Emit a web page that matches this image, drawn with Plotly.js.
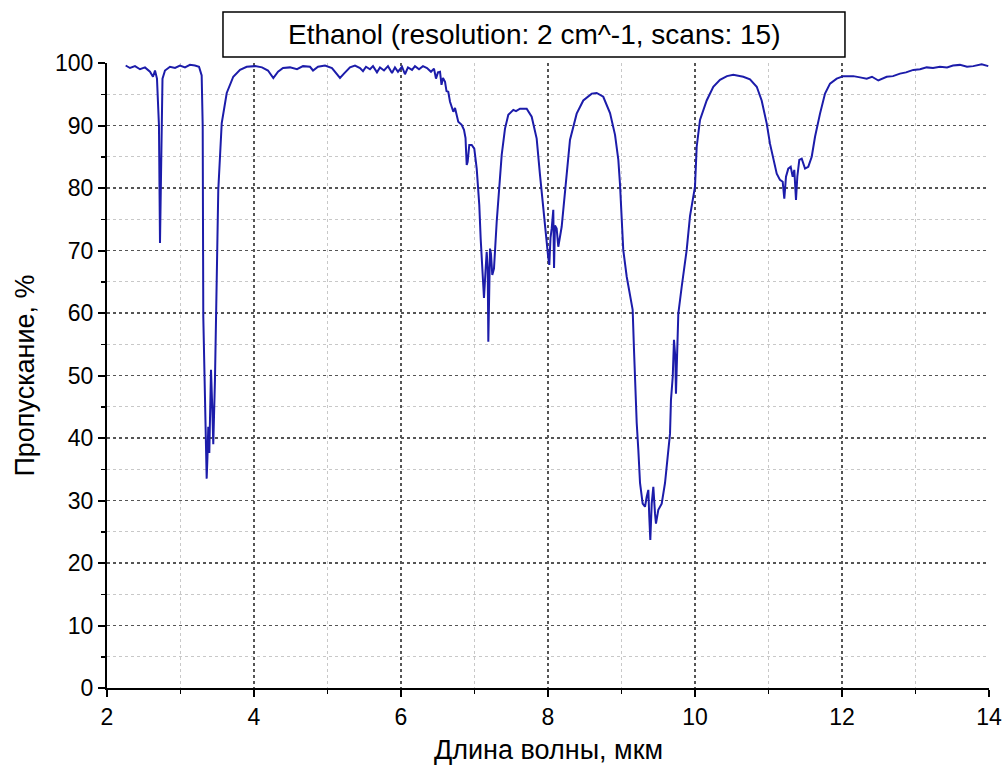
<!DOCTYPE html>
<html>
<head>
<meta charset="utf-8">
<script src="https://cdn.plot.ly/plotly-3.0.1.min.js"></script>
<style>
  html, body { margin: 0; padding: 0; background: #ffffff; }
  #chart { width: 1006px; height: 769px; }
</style>
</head>
<body>
<div id="chart"></div>
<script>
// IR transmission spectrum of ethanol: wavelength (µm) vs transmittance (%)
const wavelength = [
  2.254, 2.313, 2.381, 2.449, 2.517, 2.585, 2.626, 2.653, 2.680, 2.707,
  2.721, 2.735, 2.755, 2.789, 2.857, 2.925, 2.993, 3.061, 3.129, 3.197,
  3.252, 3.288, 3.302, 3.310, 3.333, 3.350, 3.356, 3.367, 3.378, 3.392,
  3.415, 3.433, 3.446, 3.469, 3.493, 3.514, 3.561, 3.629, 3.718, 3.810,
  3.901, 4.014, 4.109, 4.190, 4.263, 4.327, 4.395, 4.490, 4.585, 4.667,
  4.762, 4.803, 4.871, 4.966, 5.061, 5.129, 5.170, 5.224, 5.306, 5.374,
  5.442, 5.483, 5.524, 5.578, 5.619, 5.673, 5.714, 5.769, 5.823, 5.878,
  5.918, 5.959, 6.014, 6.054, 6.095, 6.150, 6.190, 6.245, 6.299, 6.354,
  6.408, 6.449, 6.476, 6.503, 6.531, 6.551, 6.571, 6.599, 6.619, 6.643,
  6.667, 6.712, 6.735, 6.779, 6.825, 6.857, 6.878, 6.884, 6.894, 6.907,
  6.929, 6.962, 6.997, 7.030, 7.065, 7.084, 7.098, 7.112, 7.129, 7.152,
  7.166, 7.180, 7.188, 7.211, 7.224, 7.242, 7.265, 7.302, 7.337, 7.370,
  7.415, 7.460, 7.528, 7.565, 7.619, 7.710, 7.778, 7.846, 7.891, 7.927,
  7.973, 8.004, 8.018, 8.034, 8.050, 8.072, 8.082, 8.095, 8.118, 8.140,
  8.186, 8.231, 8.299, 8.390, 8.480, 8.595, 8.662, 8.752, 8.844, 8.912,
  8.957, 8.980, 9.003, 9.024, 9.071, 9.116, 9.152, 9.170, 9.184, 9.207,
  9.229, 9.252, 9.288, 9.320, 9.343, 9.365, 9.378, 9.392, 9.411, 9.433,
  9.456, 9.469, 9.501, 9.547, 9.592, 9.637, 9.660, 9.673, 9.697, 9.714,
  9.732, 9.741, 9.759, 9.773, 9.819, 9.864, 9.887, 9.932, 10.000, 10.023,
  10.068, 10.159, 10.249, 10.340, 10.435, 10.521, 10.657, 10.748, 10.840, 10.907,
  10.976, 11.020, 11.065, 11.112, 11.156, 11.193, 11.215, 11.238, 11.269, 11.302,
  11.329, 11.351, 11.374, 11.392, 11.419, 11.452, 11.497, 11.541, 11.588, 11.633,
  11.701, 11.769, 11.837, 11.928, 12.018, 12.154, 12.245, 12.336, 12.408, 12.494,
  12.608, 12.694, 12.789, 12.871, 12.970, 13.061, 13.152, 13.238, 13.333, 13.429,
  13.510, 13.605, 13.701, 13.786, 13.900, 13.990
];

const transmittance = [
  99.6, 99.2, 99.5, 99.0, 99.3, 98.6, 97.8, 98.8, 97.5, 90.0,
  71.2, 85.0, 97.5, 98.8, 99.4, 99.2, 99.6, 99.3, 99.7, 99.6,
  99.4, 98.0, 89.9, 59.4, 47.7, 39.7, 33.5, 37.0, 41.8, 37.6,
  50.9, 44.5, 39.0, 49.3, 64.8, 79.7, 90.4, 95.2, 97.8, 98.9,
  99.4, 99.5, 99.3, 98.8, 97.6, 98.6, 99.2, 99.3, 99.0, 99.5,
  99.4, 98.8, 99.4, 99.6, 99.2, 98.2, 97.6, 98.3, 99.3, 99.6,
  99.2, 98.7, 99.4, 99.0, 99.5, 98.5, 99.3, 98.8, 99.5, 98.4,
  99.3, 98.6, 99.4, 98.2, 99.3, 98.9, 99.5, 99.0, 99.5, 99.2,
  98.6, 99.1, 97.5, 98.5, 98.6, 96.5, 97.6, 97.0, 95.5, 95.4,
  93.8, 92.2, 92.8, 90.6, 90.1, 89.3, 88.0, 86.3, 83.7, 84.2,
  86.9, 86.9, 86.3, 83.1, 77.3, 71.9, 68.2, 64.5, 62.4, 67.1,
  69.8, 67.1, 55.4, 70.3, 69.5, 66.1, 67.1, 74.6, 79.9, 85.3,
  89.5, 91.7, 92.5, 92.3, 92.7, 92.7, 91.4, 87.9, 82.1, 77.8,
  71.4, 68.8, 67.7, 72.0, 73.5, 76.5, 67.2, 74.0, 73.5, 70.6,
  73.8, 79.7, 87.7, 91.9, 94.0, 95.1, 95.2, 94.6, 92.0, 88.5,
  84.5, 80.5, 75.0, 70.1, 65.8, 62.6, 60.5, 54.1, 48.8, 42.4,
  38.1, 32.8, 29.5, 29.0, 30.6, 31.7, 27.4, 23.7, 29.5, 32.2,
  27.9, 26.3, 28.5, 29.5, 32.8, 37.5, 40.7, 46.1, 49.8, 55.7,
  53.0, 47.1, 56.2, 59.9, 64.2, 67.9, 70.1, 75.5, 80.2, 86.6,
  90.9, 94.0, 96.2, 97.3, 97.9, 98.1, 97.8, 97.4, 96.2, 94.0,
  90.3, 87.1, 84.5, 82.3, 81.3, 81.0, 78.3, 81.8, 83.1, 83.4,
  81.8, 82.9, 78.1, 81.8, 84.5, 84.7, 83.1, 83.4, 85.0, 88.2,
  91.9, 95.1, 96.7, 97.5, 97.9, 97.9, 97.7, 97.5, 97.8, 97.2,
  97.8, 97.9, 98.3, 98.5, 98.9, 99.0, 99.3, 99.2, 99.4, 99.3,
  99.6, 99.7, 99.4, 99.5, 99.8, 99.5
];

const chartTitle = 'Ethanol (resolution: 2 cm^-1, scans: 15)';
const xTitle = 'Длина волны, мкм';
const yTitle = 'Пропускание, %';

const FONT = 'Arial, "Liberation Sans", sans-serif';

const trace = {
  x: wavelength,
  y: transmittance,
  type: 'scatter',
  mode: 'lines',
  line: { color: '#1c1caa', width: 2 },
  hoverinfo: 'x+y'
};

const axisCommon = {
  showline: true,
  linecolor: '#000000',
  linewidth: 2,
  mirror: false,
  ticks: 'outside',
  ticklen: 7,
  tickwidth: 2,
  tickcolor: '#000000',
  showgrid: true,
  gridcolor: '#555555',
  gridwidth: 1.5,
  griddash: 'dot',
  zeroline: false,
  tickfont: { family: FONT, size: 23, color: '#000000' }
};

const layout = {
  width: 1006,
  height: 769,
  paper_bgcolor: '#ffffff',
  plot_bgcolor: '#ffffff',
  showlegend: false,
  margin: { l: 107, r: 17, t: 63, b: 81 },
  font: { family: FONT, color: '#000000' },
  xaxis: Object.assign({}, axisCommon, {
    range: [2, 14],
    tick0: 2,
    dtick: 2,
    minor: {
      dtick: 1,
      ticks: 'outside',
      ticklen: 4,
      tickwidth: 1.5,
      tickcolor: '#000000',
      showgrid: true,
      gridcolor: '#c8c8c8',
      gridwidth: 1,
      griddash: 'dot'
    }
  }),
  yaxis: Object.assign({}, axisCommon, {
    range: [0, 100],
    tick0: 0,
    dtick: 10,
    minor: {
      dtick: 5,
      ticks: 'outside',
      ticklen: 4,
      tickwidth: 1.5,
      tickcolor: '#000000',
      showgrid: true,
      gridcolor: '#c8c8c8',
      gridwidth: 1,
      griddash: 'dot'
    },
    title: { text: yTitle, font: { family: FONT, size: 27, color: '#000000' }, standoff: 13 }
  }),
  shapes: [
    {
      type: 'rect',
      xref: 'paper', yref: 'paper',
      x0: 0.1315, x1: 0.8367,
      y0: 1.0096, y1: 1.0816,
      line: { color: '#000000', width: 1.5 },
      fillcolor: 'rgba(0,0,0,0)'
    }
  ],
  annotations: [
    {
      xref: 'paper', yref: 'paper',
      x: 0.484, y: 1.0456,
      xanchor: 'center', yanchor: 'middle',
      showarrow: false,
      text: chartTitle,
      font: { family: FONT, size: 28, color: '#000000' }
    },
    {
      // x-axis title, placed below the tick labels
      xref: 'paper', yref: 'paper',
      x: 0.5, y: -0.099,
      xanchor: 'center', yanchor: 'middle',
      showarrow: false,
      text: xTitle,
      font: { family: FONT, size: 27, color: '#000000' }
    }
  ]
};

Plotly.newPlot('chart', [trace], layout, { displayModeBar: false, staticPlot: true });
</script>
</body>
</html>
